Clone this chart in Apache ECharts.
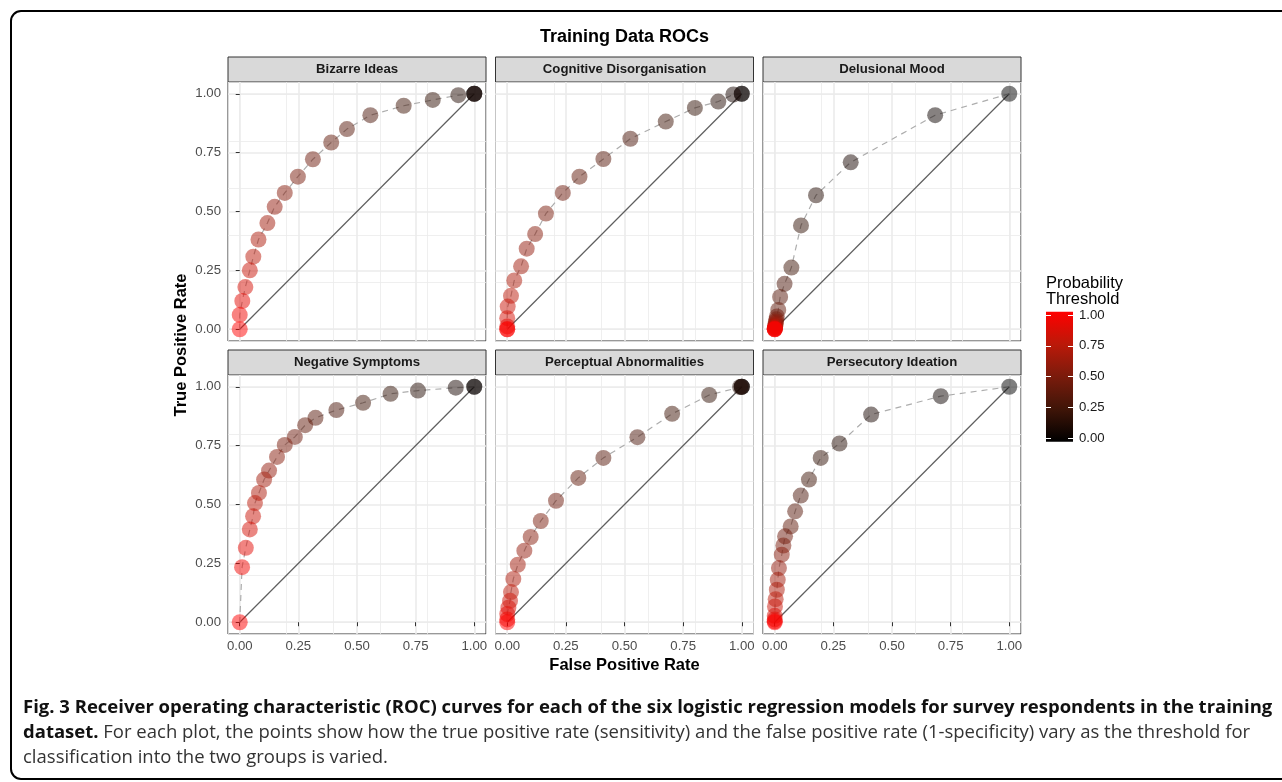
<!DOCTYPE html>
<html>
<head>
<meta charset="utf-8">
<script src="https://cdn.jsdelivr.net/npm/echarts@6/dist/echarts.min.js"></script>
<style>
  html, body { margin: 0; padding: 0; background: #fff; }
  #chart { width: 1282px; height: 782px; }
</style>
</head>
<body>
<div id="chart"></div>
<script>
// 数据：每个面板 21 个阈值点（阈值 0 → 1）
const panelNames = ['Bizarre Ideas', 'Cognitive Disorganisation', 'Delusional Mood',
  'Negative Symptoms', 'Perceptual Abnormalities', 'Persecutory Ideation'];

const thresholds = [0, 0.05, 0.1, 0.15, 0.2, 0.25, 0.3, 0.35, 0.4, 0.45, 0.5,
  0.55, 0.6, 0.65, 0.7, 0.75, 0.8, 0.85, 0.9, 0.95, 1];

const bizarreFpr = [1, 1, 1, 0.932, 0.823, 0.699, 0.557, 0.457, 0.390, 0.312, 0.248, 0.192, 0.149, 0.118, 0.080, 0.058, 0.043, 0.024, 0.011, 0, 0];
const bizarreTpr = [1, 1, 1, 0.994, 0.974, 0.949, 0.909, 0.850, 0.793, 0.722, 0.648, 0.579, 0.520, 0.451, 0.381, 0.308, 0.250, 0.179, 0.120, 0.061, 0];

const cognitiveFpr = [1, 1, 0.964, 0.900, 0.800, 0.676, 0.525, 0.410, 0.308, 0.237, 0.165, 0.119, 0.083, 0.059, 0.030, 0.016, 0.002, 0, 0, 0, 0];
const cognitiveTpr = [1, 1, 0.997, 0.967, 0.940, 0.882, 0.809, 0.723, 0.648, 0.579, 0.491, 0.404, 0.342, 0.267, 0.207, 0.142, 0.096, 0.047, 0.012, 0, 0];

const delusionalFpr = [1, 0.684, 0.324, 0.176, 0.112, 0.071, 0.042, 0.023, 0.015, 0.009, 0.007, 0.005, 0.004, 0.003, 0.002, 0.001, 0.001, 0, 0, 0, 0];
const delusionalTpr = [1, 0.909, 0.709, 0.569, 0.441, 0.262, 0.193, 0.137, 0.082, 0.054, 0.042, 0.033, 0.025, 0.018, 0.012, 0.008, 0.005, 0.003, 0.001, 0, 0];

const negativeFpr = [1, 1, 0.921, 0.760, 0.643, 0.526, 0.412, 0.323, 0.279, 0.235, 0.192, 0.159, 0.125, 0.104, 0.082, 0.065, 0.057, 0.043, 0.026, 0.010, 0];
const negativeTpr = [1, 1, 0.996, 0.984, 0.970, 0.932, 0.901, 0.868, 0.837, 0.787, 0.753, 0.702, 0.644, 0.606, 0.549, 0.506, 0.450, 0.394, 0.316, 0.234, 0];

const perceptualFpr = [1, 1, 1, 0.993, 0.861, 0.703, 0.555, 0.410, 0.303, 0.208, 0.143, 0.100, 0.073, 0.045, 0.026, 0.016, 0.012, 0.005, 0, 0, 0];
const perceptualTpr = [1, 1, 1, 0.999, 0.965, 0.885, 0.786, 0.698, 0.613, 0.516, 0.430, 0.362, 0.304, 0.244, 0.184, 0.128, 0.091, 0.062, 0.035, 0.012, 0];

const persecutoryFpr = [1, 0.708, 0.411, 0.276, 0.196, 0.146, 0.111, 0.087, 0.068, 0.044, 0.037, 0.030, 0.018, 0.013, 0.009, 0.004, 0.001, 0, 0, 0, 0];
const persecutoryTpr = [1, 0.960, 0.882, 0.759, 0.698, 0.606, 0.538, 0.471, 0.407, 0.365, 0.326, 0.287, 0.230, 0.180, 0.138, 0.098, 0.067, 0.027, 0.012, 0.004, 0];

const panelFpr = [bizarreFpr, cognitiveFpr, delusionalFpr, negativeFpr, perceptualFpr, persecutoryFpr];
const panelTpr = [bizarreTpr, cognitiveTpr, delusionalTpr, negativeTpr, perceptualTpr, persecutoryTpr];

const majorTicks = [0, 0.25, 0.5, 0.75, 1];
const minorTicks = [0.125, 0.375, 0.625, 0.875];
const legendTicks = [0, 0.25, 0.5, 0.75, 1];

// 黑 → 红（Lab 插值近似）
const thresholdColors = ['#000000', '#3F1508', '#7A1B0C', '#BB1909', '#FF0000'];

// 布局
const FONT = 'Liberation Sans, Arial, Helvetica, sans-serif';
const colLeft = [228, 495.5, 763];
const rowTop = [82, 375];
const PANEL_W = 258;
const PANEL_H = 259;
const STRIP_H = 25;

const fmt = (v) => Number(v).toFixed(2);

const grids = [];
const xAxes = [];
const yAxes = [];
const series = [];
const scatterIdx = [];
const graphics = [];

panelNames.forEach((name, i) => {
  const r = Math.floor(i / 3);
  const c = i % 3;
  const left = colLeft[c];
  const top = rowTop[r];
  grids.push({
    left, top, width: PANEL_W, height: PANEL_H,
    show: true, backgroundColor: '#ffffff', borderColor: '#333333', borderWidth: 1,
  });

  const showX = r === 1;
  const showY = c === 0;
  xAxes.push({
    type: 'value', gridIndex: i, min: -0.05, max: 1.05,
    axisLine: { show: false },
    axisTick: { show: showX, customValues: majorTicks, length: 4, lineStyle: { color: '#333333', width: 1 } },
    axisLabel: { show: showX, customValues: majorTicks, formatter: fmt, color: '#4D4D4D', fontSize: 13.2, fontFamily: FONT, margin: 6 },
    splitLine: { show: true, customValues: majorTicks, lineStyle: { color: '#EBEBEB', width: 1.6 } },
    name: i === 4 ? 'False Positive Rate' : '',
    nameLocation: 'middle',
    nameGap: 23,
    nameTextStyle: { color: '#000000', fontSize: 16.5, fontWeight: 'bold', fontFamily: FONT },
  });
  xAxes.push({
    type: 'value', gridIndex: i, min: -0.05, max: 1.05,
    axisLine: { show: false }, axisTick: { show: false }, axisLabel: { show: false },
    splitLine: { show: true, customValues: minorTicks, lineStyle: { color: '#EBEBEB', width: 0.8 } },
  });
  yAxes.push({
    type: 'value', gridIndex: i, min: -0.05, max: 1.05,
    axisLine: { show: false },
    axisTick: { show: showY, customValues: majorTicks, length: 4, lineStyle: { color: '#333333', width: 1 } },
    axisLabel: { show: showY, customValues: majorTicks, formatter: fmt, color: '#4D4D4D', fontSize: 13.2, fontFamily: FONT, margin: 7 },
    splitLine: { show: true, customValues: majorTicks, lineStyle: { color: '#EBEBEB', width: 1.6 } },
  });
  yAxes.push({
    type: 'value', gridIndex: i, min: -0.05, max: 1.05,
    axisLine: { show: false }, axisTick: { show: false }, axisLabel: { show: false },
    splitLine: { show: true, customValues: minorTicks, lineStyle: { color: '#EBEBEB', width: 0.8 } },
  });

  const fpr = panelFpr[i];
  const tpr = panelTpr[i];
  // 对角参考线
  series.push({
    type: 'line', xAxisIndex: 2 * i, yAxisIndex: 2 * i,
    data: [[0, 0], [1, 1]], showSymbol: false, symbol: 'none', silent: true, z: 2,
    lineStyle: { color: '#5E5E5E', width: 1.2 },
  });
  // ROC 虚线
  series.push({
    type: 'line', xAxisIndex: 2 * i, yAxisIndex: 2 * i,
    data: fpr.map((x, k) => [x, tpr[k]]), showSymbol: false, symbol: 'none', silent: true, z: 3,
    lineStyle: { color: '#ADADAD', width: 1.2, type: [6, 5] },
  });
  // 阈值点
  scatterIdx.push(series.length);
  series.push({
    type: 'scatter', xAxisIndex: 2 * i, yAxisIndex: 2 * i,
    data: fpr.map((x, k) => [x, tpr[k], thresholds[k]]),
    symbolSize: 16, silent: true, z: 4,
    itemStyle: { opacity: 0.5 },
  });

  // 分面标题条
  graphics.push({
    type: 'rect', silent: true,
    shape: { x: left, y: top - STRIP_H, width: PANEL_W, height: STRIP_H },
    style: { fill: '#D9D9D9', stroke: '#333333', lineWidth: 1 },
  });
  graphics.push({
    type: 'text', silent: true, x: left + PANEL_W / 2, y: top - STRIP_H / 2,
    style: { text: name, fill: '#1A1A1A', fontSize: 13.2, fontWeight: 'bold', fontFamily: FONT,
      align: 'center', verticalAlign: 'middle', textAlign: 'center', textVerticalAlign: 'middle' },
  });
});

// 色条
grids.push({
  left: 1046, top: 311.7, width: 27, height: 130, show: true, borderWidth: 0,
  backgroundColor: new echarts.graphic.LinearGradient(0, 0, 0, 1, [
    { offset: 0, color: thresholdColors[4] },
    { offset: 0.25, color: thresholdColors[3] },
    { offset: 0.5, color: thresholdColors[2] },
    { offset: 0.75, color: thresholdColors[1] },
    { offset: 1, color: thresholdColors[0] },
  ]),
});
xAxes.push({ type: 'category', gridIndex: 6, data: ['c'], show: false });
yAxes.push({
  type: 'value', gridIndex: 6, min: -0.027, max: 1.027, position: 'right',
  axisLine: { show: false },
  axisTick: { show: true, inside: true, customValues: legendTicks, length: 5, lineStyle: { color: '#ffffff', width: 1 } },
  axisLabel: { show: true, customValues: legendTicks, formatter: fmt, color: '#1A1A1A', fontSize: 13.2, fontFamily: FONT, margin: 6 },
  splitLine: { show: false },
});
yAxes.push({
  type: 'value', gridIndex: 6, min: -0.027, max: 1.027, position: 'left',
  axisLine: { show: false },
  axisTick: { show: true, inside: true, customValues: legendTicks, length: 5, lineStyle: { color: '#ffffff', width: 1 } },
  axisLabel: { show: false },
  splitLine: { show: false },
});

graphics.push(
  {
    type: 'rect', silent: true, z: -10,
    shape: { x: 11, y: 11, width: 1320, height: 768, r: 10 },
    style: { fill: 'none', stroke: '#000000', lineWidth: 2 },
  },
  {
    type: 'text', silent: true, x: 624.5, y: 37,
    style: { text: 'Training Data ROCs', fill: '#000000', fontSize: 18, fontWeight: 'bold', fontFamily: FONT,
      align: 'center', verticalAlign: 'middle', textAlign: 'center', textVerticalAlign: 'middle' },
  },
  {
    type: 'text', silent: true, x: 181, y: 345, rotation: Math.PI / 2,
    style: { text: 'True Positive Rate', fill: '#000000', fontSize: 16.5, fontWeight: 'bold', fontFamily: FONT,
      align: 'center', verticalAlign: 'middle', textAlign: 'center', textVerticalAlign: 'middle' },
  },
  {
    type: 'text', silent: true, x: 1046, y: 275,
    style: { text: 'Probability\nThreshold', fill: '#000000', fontSize: 16.5, lineHeight: 16, fontFamily: FONT,
      align: 'left', verticalAlign: 'top', textAlign: 'left', textVerticalAlign: 'top' },
  },
  {
    type: 'text', silent: true, x: 23, y: 695,
    style: {
      text: '{b|Fig. 3 Receiver operating characteristic (ROC) curves for each of the six logistic regression models for survey respondents in the training}\n'
        + '{b|dataset.}{r| For each plot, the points show how the true positive rate (sensitivity) and the false positive rate (1-specificity) vary as the threshold for}\n'
        + '{r|classification into the two groups is varied.}',
      align: 'left', verticalAlign: 'top', textAlign: 'left', textVerticalAlign: 'top',
      rich: {
        b: { fontFamily: 'Open Sans, sans-serif', fontSize: 18.5, fontWeight: 'bold', fill: '#111111', lineHeight: 25 },
        r: { fontFamily: 'Open Sans, sans-serif', fontSize: 18.5, fill: '#333333', lineHeight: 25 },
      },
    },
  }
);

const chart = echarts.init(document.getElementById('chart'), null, { renderer: 'canvas' });
chart.setOption({
  backgroundColor: '#ffffff',
  animation: false,
  grid: grids,
  xAxis: xAxes,
  yAxis: yAxes,
  visualMap: {
    type: 'continuous', show: false, min: 0, max: 1, dimension: 2,
    seriesIndex: scatterIdx,
    inRange: { color: thresholdColors },
  },
  graphic: { elements: graphics },
  series,
});
</script>
</body>
</html>
